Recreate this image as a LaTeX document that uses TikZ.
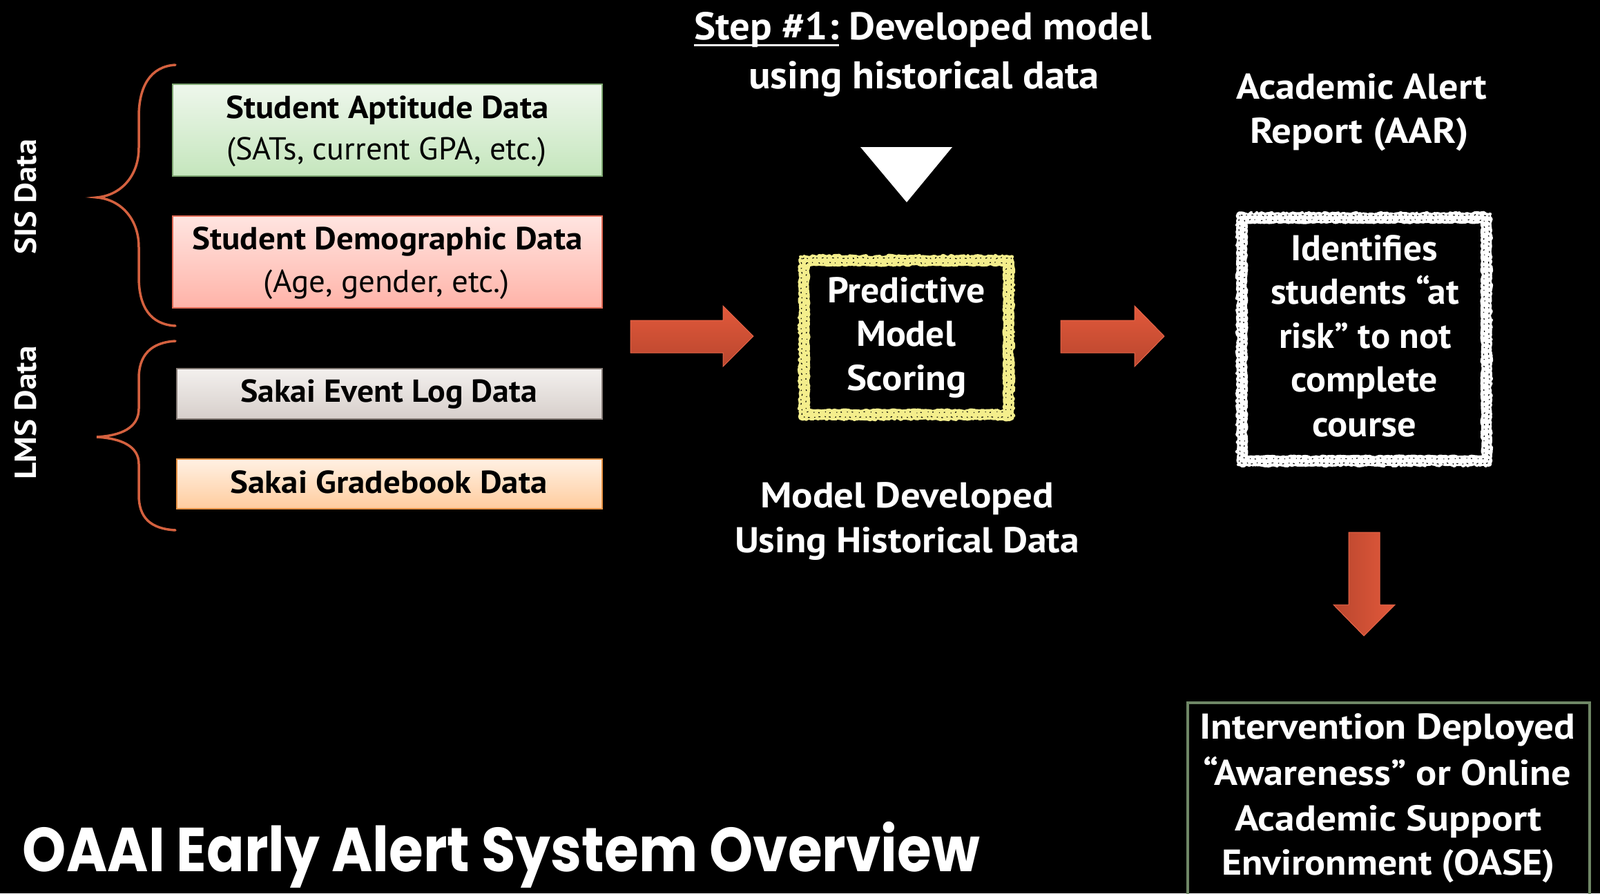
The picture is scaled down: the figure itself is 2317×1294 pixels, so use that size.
\documentclass[tikz,border=0pt]{standalone}
\usepackage{fontspec}
\usepackage{graphicx}
\usetikzlibrary{decorations.pathmorphing}
\newfontfamily\pts{PT Sans}
\newfontfamily\pop{Poppins}
\newcommand{\fw}[2]{\resizebox{#1pt}{\height}{#2}}
\newcommand{\fsz}[1]{\fontsize{#1pt}{#1pt}\selectfont}
\newcommand{\ulx}[1]{\setbox0\hbox{#1}\rlap{\rule[-10pt]{\wd0}{3pt}}\box0\relax}
\definecolor{grnT}{HTML}{EEF7EC}
\definecolor{grnB}{HTML}{C5E6BD}
\definecolor{grnL}{HTML}{7FA872}
\definecolor{redT}{HTML}{FFE5E1}
\definecolor{redB}{HTML}{FFB3A8}
\definecolor{redL}{HTML}{E06A55}
\definecolor{gryT}{HTML}{F3F0EE}
\definecolor{gryB}{HTML}{D7CFCB}
\definecolor{gryL}{HTML}{857B76}
\definecolor{orgT}{HTML}{FFF0E3}
\definecolor{orgB}{HTML}{FFCC9E}
\definecolor{orgL}{HTML}{E89345}
\definecolor{arrT}{HTML}{E2593B}
\definecolor{arrB}{HTML}{B9462E}
\definecolor{arrE}{HTML}{E8664A}
\definecolor{braceC}{HTML}{D4613F}
\definecolor{chalkY}{HTML}{F4EE8C}
\definecolor{boxG}{HTML}{6F8766}
\begin{document}
\begin{tikzpicture}[x=1pt,y=-1pt,
  wtxt/.style={text=white, inner sep=0pt, anchor=base},
  btxt/.style={text=black, inner sep=0pt, anchor=base},
  lfb/.style={font=\pts\fsz{46}\bfseries},
  lfr/.style={font=\pts\fsz{46}},
  mfb/.style={font=\pts\fsz{52}\bfseries},
  databox/.style={rectangle, inner sep=0pt, line width=2pt},
  frame/.style={rectangle, inner sep=0pt},
  chalk/.style={line width=15pt, line join=round, decorate,
    decoration={random steps, segment length=2.5pt, amplitude=1.3pt}},
  chalkedge/.style={line width=4pt, line join=round, decorate,
    decoration={random steps, segment length=3pt, amplitude=2.2pt}},
  speck/.style={black, line width=1.2pt, decorate,
    decoration={random steps, segment length=2pt, amplitude=1pt}},
  blockarrow/.style={top color=arrT, bottom color=arrB, draw=arrE, line width=1pt},
  bracestyle/.style={draw=braceC, line width=3.5pt, line cap=round}
]
\path[use as bounding box, fill=black] (0,0) rectangle (2317,1294);
\clip (0,0) rectangle (2317,1294);

% side labels
\node[wtxt, anchor=center, rotate=90, font=\pts\fsz{44}\bfseries] (sis) at (37,285) {\fw{166}{SIS Data}};
\node[wtxt, anchor=center, rotate=90, font=\pts\fsz{44}\bfseries] (lms) at (37,598) {\fw{193}{LMS Data}};

% braces
\draw[bracestyle] (254,94) .. controls (218,96) and (201,125) .. (201,169) -- (201,214)
  .. controls (201,255) and (175,283) .. (140,286)
  .. controls (175,289) and (201,317) .. (201,358) -- (201,401)
  .. controls (201,445) and (218,470) .. (254,472);
\draw[bracestyle] (254,494) .. controls (218,496) and (201,515) .. (201,548) -- (201,592)
  .. controls (201,620) and (175,631) .. (140,633)
  .. controls (175,635) and (201,646) .. (201,672) -- (201,717)
  .. controls (201,750) and (218,766) .. (254,768);

% data boxes
\node[databox, draw=grnL, top color=grnT, bottom color=grnB, minimum width=622pt, minimum height=133pt] (aptbox) at (561,188) {};
\node[databox, draw=redL, top color=redT, bottom color=redB, minimum width=622pt, minimum height=133pt] (demobox) at (561,379) {};
\node[databox, draw=gryL, top color=gryT, bottom color=gryB, minimum width=616pt, minimum height=73pt] (evtbox) at (564,570) {};
\node[databox, draw=orgL, top color=orgT, bottom color=orgB, minimum width=616pt, minimum height=72pt] (grdbox) at (564,701) {};

\node[btxt, lfb] (apt1) at (561,171) {\fw{467}{Student Aptitude Data}};
\node[btxt, lfr] (apt2) at (560,231) {\fw{463}{(SATs, current GPA, etc.)}};
\node[btxt, lfb] (demo1) at (561,361) {\fw{565}{Student Demographic Data}};
\node[btxt, lfr] (demo2) at (560,423) {\fw{356}{(Age, gender, etc.)}};
\node[btxt, lfb] (evt) at (563,582) {\fw{430}{Sakai Event Log Data}};
\node[btxt, lfb] (grd) at (563,714) {\fw{459}{Sakai Gradebook Data}};

% block arrows
\path[blockarrow] (913,464) -- (1047,464) -- (1047,443) -- (1091,487) -- (1047,531) -- (1047,511) -- (913,511) -- cycle;
\path[blockarrow] (1536,464) -- (1643,464) -- (1643,443) -- (1686,487) -- (1643,531) -- (1643,511) -- (1536,511) -- cycle;
\path[left color=arrB, right color=arrT, draw=arrE, line width=1pt] (1953,771) -- (1998,771) -- (1998,876) -- (2020,876) -- (1975,921) -- (1931,876) -- (1953,876) -- cycle;

% step text and triangle
\node[wtxt, font=\pts\fsz{56}\bfseries] (step1) at (1336.5,57) {\fw{663}{\ulx{Step \#1:} Developed model}};
\node[wtxt, font=\pts\fsz{56}\bfseries] (step2) at (1338,128) {\fw{508}{using historical data}};
\fill[white] (1246,213) -- (1379,213) -- (1313,293) -- cycle;

% predictive model scoring
\node[frame, minimum width=295pt, minimum height=222pt] (pms) at (1312.5,489) {};
\draw[chalk, draw=chalkY] (pms.north west) rectangle (pms.south east);
\draw[chalkedge, draw=chalkY] ([shift={(-6,-6)}]pms.north west) rectangle ([shift={(6,6)}]pms.south east);
\draw[speck, dash pattern=on 1.5pt off 5pt on 2.5pt off 7pt] ([shift={(-4,-4)}]pms.north west) rectangle ([shift={(4,4)}]pms.south east);
\draw[speck, dash pattern=on 2pt off 9pt on 1pt off 6pt] ([shift={(3,3)}]pms.north west) rectangle ([shift={(-3,-3)}]pms.south east);
\node[wtxt, mfb] (pms1) at (1312.5,438) {\fw{228}{Predictive}};
\node[wtxt, mfb] (pms2) at (1312,501) {\fw{144}{Model}};
\node[wtxt, mfb] (pms3) at (1313,565) {\fw{174}{Scoring}};

\node[wtxt, mfb] (md1) at (1313.5,735) {\fw{425}{Model Developed}};
\node[wtxt, mfb] (md2) at (1313.5,800) {\fw{499}{Using Historical Data}};

% academic alert report
\node[wtxt, mfb] (aar1) at (1971.5,143) {\fw{363}{Academic Alert}};
\node[wtxt, mfb] (aar2) at (1968.5,207) {\fw{317}{Report (AAR)}};

\node[frame, minimum width=353pt, minimum height=351pt] (idb) at (1975.5,491.5) {};
\draw[chalk, draw=white] (idb.north west) rectangle (idb.south east);
\draw[chalkedge, draw=white] ([shift={(-6,-6)}]idb.north west) rectangle ([shift={(6,6)}]idb.south east);
\draw[speck, dash pattern=on 1.5pt off 5pt on 2.5pt off 7pt] ([shift={(-4,-4)}]idb.north west) rectangle ([shift={(4,4)}]idb.south east);
\draw[speck, dash pattern=on 2pt off 9pt on 1pt off 6pt] ([shift={(3,3)}]idb.north west) rectangle ([shift={(-3,-3)}]idb.south east);
\node[wtxt, mfb] (id1) at (1975.5,377) {\fw{213}{Identifies}};
\node[wtxt, mfb] (id2) at (1976.5,440) {\fw{273}{students “at}};
\node[wtxt, mfb] (id3) at (1977,504) {\fw{250}{risk” to not}};
\node[wtxt, mfb] (id4) at (1975.5,567) {\fw{213}{complete}};
\node[wtxt, mfb] (id5) at (1975.5,632) {\fw{151}{course}};

% intervention box
\node[frame, draw=boxG, line width=4pt, minimum width=582pt, minimum height=300pt] (intbox) at (2011,1168) {};
\node[wtxt, mfb] (int1) at (2009,1070) {\fw{544}{Intervention Deployed}};
\node[wtxt, mfb] (int2) at (2009,1137) {\fw{532}{“Awareness” or Online}};
\node[wtxt, mfb] (int3) at (2010.5,1203) {\fw{445}{Academic Support}};
\node[wtxt, mfb] (int4) at (2010.5,1267) {\fw{483}{Environment (OASE)}};

% title
\node[wtxt, font=\pop\fsz{90}\bfseries] (ttl) at (726,1262) {\fw{1386}{OAAI Early Alert System Overview}};
\end{tikzpicture}
\end{document}
